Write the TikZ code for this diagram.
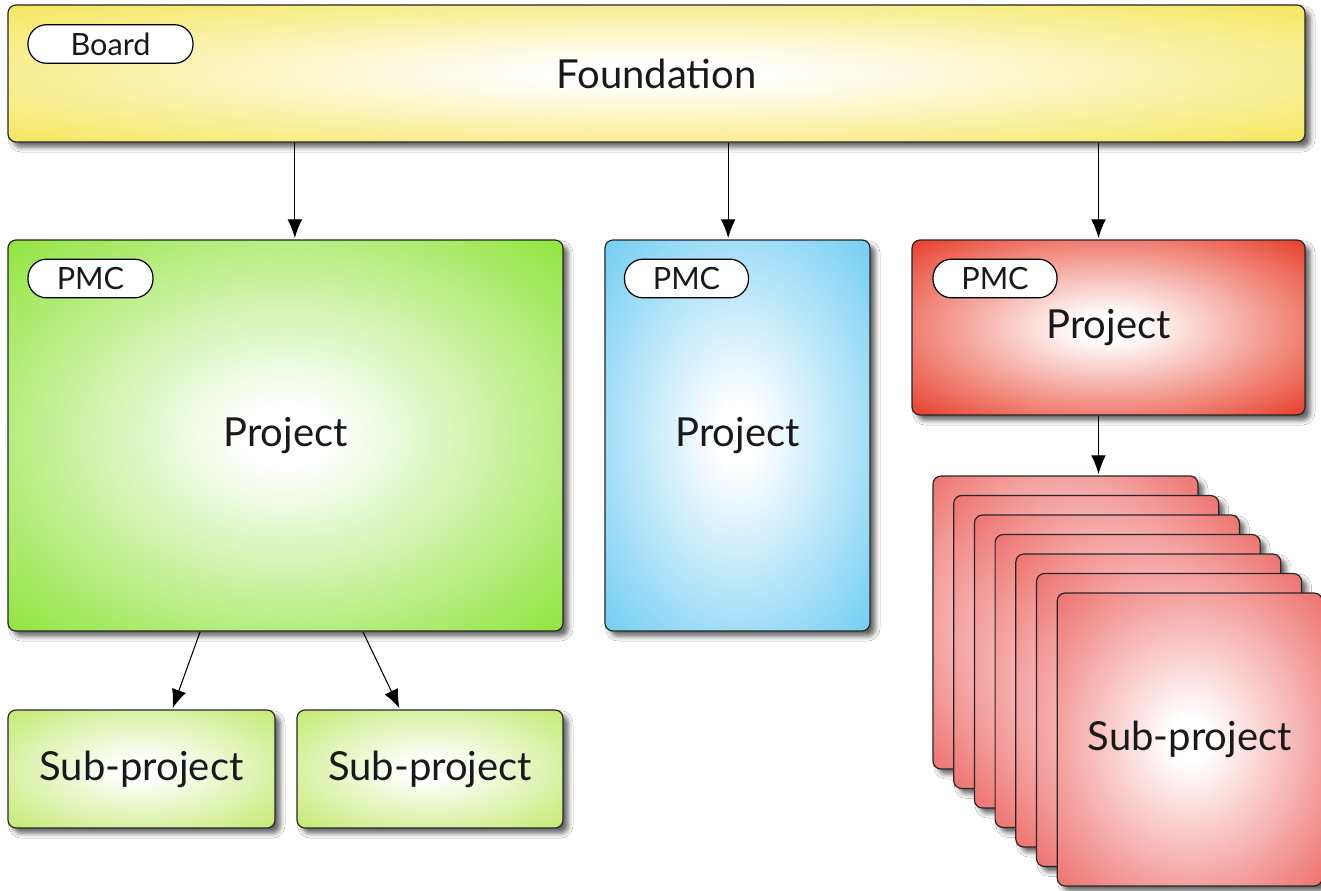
\documentclass[tikz,border=0pt]{standalone}
\usepackage{fontspec}
\setmainfont{Lato}
\usetikzlibrary{arrows.meta,shadows.blur}

\definecolor{fndyellow}{HTML}{F5E450}
\definecolor{pmcgreen}{HTML}{88E22E}
\definecolor{pmcblue}{HTML}{66C9F2}
\definecolor{pmcred}{HTML}{E62E18}
\definecolor{subgreen}{HTML}{BFE866}
\definecolor{subred}{HTML}{EC6662}

\colorlet{glowin}{white}
\colorlet{glowout}{fndyellow}
\pgfdeclareradialshading[glowin,glowout]{glow}{\pgfpointorigin}{color(0bp)=(glowin); color(4bp)=(glowin); color(38bp)=(glowout); color(50bp)=(glowout)}

\tikzset{
  glowfill/.style={/utils/exec={\colorlet{glowout}{#1}}, shading=glow},
  box/.style={draw=black!85, line width=0.9pt, rounded corners=6pt, inner sep=0pt,
    blur shadow={shadow xshift=4pt, shadow yshift=-4pt, shadow blur radius=3.5pt, shadow opacity=60},
    font=\fontsize{30}{33}\selectfont, text=black!90},
  badge/.style={draw=black, fill=white, line width=0.9pt, rounded corners=14pt, inner sep=0pt,
    minimum height=29pt, font=\fontsize{23}{25}\selectfont, text=black!90},
  arr/.style={-{Latex[length=14pt,width=11pt]}, line width=0.8pt, shorten >=1pt}
}

\begin{document}
\begin{tikzpicture}[x=0.75pt,y=-0.75pt]
\useasboundingbox (0,0) rectangle (1321,890);
\fill[white] (0,0) rectangle (1321,890);

% foundation and projects
\node[box, glowfill=fndyellow, minimum width=972.75pt, minimum height=102.75pt] (found) at (656.5,73.5) {Foundation};
\node[badge, minimum width=123.75pt] (board) at (110.5,44) {Board};

\node[box, glowfill=pmcgreen, minimum width=416.25pt, minimum height=293.25pt] (gproj) at (285.5,435.5) {Project};
\node[badge, minimum width=93.75pt] (gpmc) at (90.5,278.5) {PMC};

\node[box, glowfill=pmcblue, minimum width=198.75pt, minimum height=293.25pt] (bproj) at (737.5,435.5) {Project};
\node[badge, minimum width=93pt] (bpmc) at (686.5,278.5) {PMC};

\node[box, glowfill=pmcred, minimum width=294.75pt, minimum height=131.25pt] (rproj) at (1108.5,327.5) {Project};
\node[badge, minimum width=93pt] (rpmc) at (995,278.5) {PMC};

% sub-projects
\node[box, glowfill=subgreen, minimum width=200.25pt, minimum height=88.5pt] (gsub1) at (141.5,769) {Sub-project};
\node[box, glowfill=subgreen, minimum width=199.5pt, minimum height=88.5pt] (gsub2) at (430,769) {Sub-project};

\foreach \i in {0,...,5}
  \node[box, glowfill=subred, minimum width=198.75pt, minimum height=219.75pt] (card\i) at (1065.5+20.7*\i, 622.5+19.5*\i) {};
\node[box, glowfill=subred, minimum width=198.75pt, minimum height=219.75pt] (card6) at (1189.7,739.5) {Sub-project};

% arrows
\coordinate (g1) at ([xshift=7pt]gproj.north);
\coordinate (b1) at ([xshift=-7pt]bproj.north);
\coordinate (r1) at ([xshift=-7.5pt]rproj.north);
\coordinate (r2) at ([xshift=-7.5pt]rproj.south);
\draw[arr] (found.south -| g1) -- (g1);
\draw[arr] (found.south -| b1) -- (b1);
\draw[arr] (found.south -| r1) -- (r1);
\draw[arr] (r2) -- (r2 |- card0.north);
\draw[arr] ([xshift=-64pt]gproj.south) -- ([xshift=23pt]gsub1.north);
\draw[arr] ([xshift=58pt]gproj.south) -- ([xshift=-22.5pt]gsub2.north);
\end{tikzpicture}
\end{document}
